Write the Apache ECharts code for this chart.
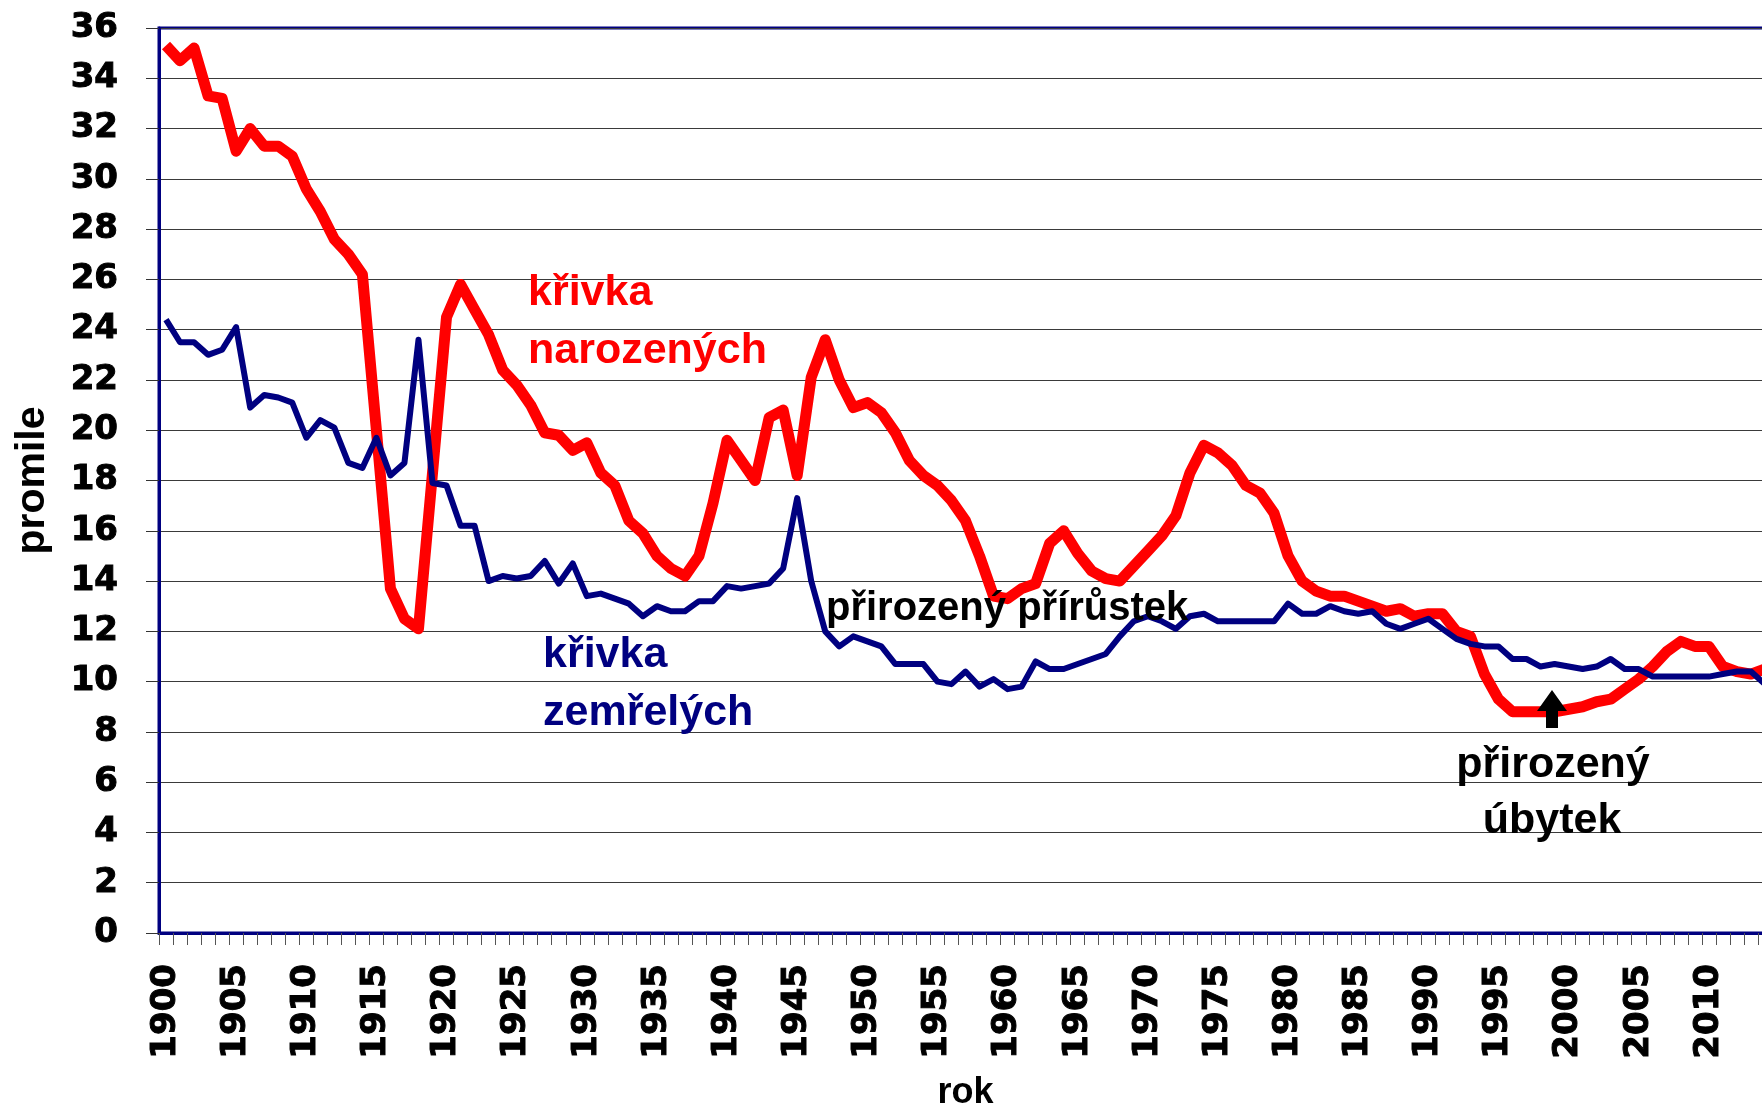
<!DOCTYPE html>
<html>
<head>
<meta charset="utf-8">
<title>Křivka narozených a zemřelých</title>
<script src="https://cdn.jsdelivr.net/npm/echarts@6/dist/echarts.min.js"></script>
<style>
  html, body { margin: 0; padding: 0; background: #fff; }
  #chart { width: 1762px; height: 1108px; }
</style>
</head>
<body>
<div id="chart"></div>
<script>
// roky 1900 - 2014
const years = []
for (let y = 1900; y <= 2014; y++) years.push(String(y))

// živě narození na 1000 obyvatel
const births = [
  35.3, 34.7, 35.2, 33.3, 33.2, 31.1, 32.0, 31.3, 31.3, 30.9, // 1900
  29.6, 28.7, 27.6, 27.0, 26.2, 20.0, 13.7, 12.5, 12.1, 18.3, // 1910
  24.5, 25.8, 24.8, 23.8, 22.4, 21.8, 21.0, 19.9, 19.8, 19.2, // 1920
  19.5, 18.3, 17.8, 16.4, 15.9, 15.0, 14.5, 14.2, 15.0, 17.1, // 1930
  19.6, 18.8, 18.0, 20.5, 20.8, 18.2, 22.1, 23.6, 22.0, 20.9, // 1940
  21.1, 20.7, 19.9, 18.8, 18.2, 17.8, 17.2, 16.4, 15.0, 13.4, // 1950
  13.3, 13.7, 13.9, 15.5, 16.0, 15.1, 14.4, 14.1, 14.0, 14.6, // 1960
  15.2, 15.8, 16.6, 18.3, 19.4, 19.1, 18.6, 17.8, 17.5, 16.7, // 1970
  15.0, 14.0, 13.6, 13.4, 13.4, 13.2, 13.0, 12.8, 12.9, 12.6, // 1980
  12.7, 12.7, 12.0, 11.8, 10.3, 9.3, 8.8, 8.8, 8.8, 8.8,      // 1990
  8.9, 9.0, 9.2, 9.3, 9.7, 10.1, 10.6, 11.2, 11.6, 11.4,      // 2000
  11.4, 10.6, 10.4, 10.3, 10.5                                // 2010
]

// zemřelí na 1000 obyvatel
const deaths = [
  24.4, 23.5, 23.5, 23.0, 23.2, 24.1, 20.9, 21.4, 21.3, 21.1, // 1900
  19.7, 20.4, 20.1, 18.7, 18.5, 19.7, 18.2, 18.7, 23.6, 17.9, // 1910
  17.8, 16.2, 16.2, 14.0, 14.2, 14.1, 14.2, 14.8, 13.9, 14.7, // 1920
  13.4, 13.5, 13.3, 13.1, 12.6, 13.0, 12.8, 12.8, 13.2, 13.2, // 1930
  13.8, 13.7, 13.8, 13.9, 14.5, 17.3, 14.0, 12.0, 11.4, 11.8, // 1940
  11.6, 11.4, 10.7, 10.7, 10.7, 10.0, 9.9, 10.4, 9.8, 10.1,   // 1950
  9.7, 9.8, 10.8, 10.5, 10.5, 10.7, 10.9, 11.1, 11.8, 12.4,   // 1960
  12.6, 12.4, 12.1, 12.6, 12.7, 12.4, 12.4, 12.4, 12.4, 12.4, // 1970
  13.1, 12.7, 12.7, 13.0, 12.8, 12.7, 12.8, 12.3, 12.1, 12.3, // 1980
  12.5, 12.1, 11.7, 11.5, 11.4, 11.4, 10.9, 10.9, 10.6, 10.7, // 1990
  10.6, 10.5, 10.6, 10.9, 10.5, 10.5, 10.2, 10.2, 10.2, 10.2, // 2000
  10.2, 10.3, 10.4, 10.4, 9.9                                 // 2010
]

const labelFont = {
  fontFamily: 'DejaVu Sans',
  fontWeight: 'bold',
  fontSize: 34,
  color: '#000',
  textBorderColor: '#000',
  textBorderWidth: 1
}

const myChart = echarts.init(document.getElementById('chart'))

const option = {
  animation: false,
  backgroundColor: '#fff',
  grid: {
    left: 159,
    top: 28,
    right: -10,
    bottom: 175,
    outerBoundsMode: 'none',
    containLabel: false,
    show: true,
    borderColor: '#000080',
    borderWidth: 3,
    backgroundColor: 'transparent'
  },
  xAxis: {
    type: 'category',
    data: years,
    boundaryGap: true,
    name: 'rok',
    nameLocation: 'middle',
    nameGap: 142,
    nameTextStyle: {
      fontFamily: 'Liberation Sans',
      fontWeight: 'bold',
      fontSize: 36,
      color: '#000'
    },
    axisLine: { lineStyle: { color: '#000080', width: 3 } },
    axisTick: { show: true, interval: 0, length: 12, lineStyle: { color: '#555', width: 1 } },
    axisLabel: Object.assign({ interval: 4, rotate: 90, margin: 31, padding: [0, 0, 8, 0] }, labelFont),
    splitLine: { show: false }
  },
  yAxis: {
    type: 'value',
    min: 0,
    max: 36,
    interval: 2,
    name: 'promile',
    nameLocation: 'middle',
    nameGap: 106,
    nameRotate: 90,
    nameTextStyle: {
      fontFamily: 'Liberation Sans',
      fontWeight: 'bold',
      fontSize: 41,
      color: '#000'
    },
    axisLine: { show: true, lineStyle: { color: '#000080', width: 3 } },
    axisTick: { show: true, length: 13, lineStyle: { color: '#333', width: 1 } },
    axisLabel: Object.assign({ margin: 41 }, labelFont),
    splitLine: { lineStyle: { color: '#3a3a3a', width: 1 } }
  },
  series: [
    {
      name: 'křivka narozených',
      type: 'line',
      data: births,
      symbol: 'none',
      color: '#ff0000',
      lineStyle: { color: '#ff0000', width: 11, join: 'round' },
      z: 2
    },
    {
      name: 'křivka zemřelých',
      type: 'line',
      data: deaths,
      symbol: 'none',
      color: '#000080',
      lineStyle: { color: '#000080', width: 6, join: 'round' },
      z: 3
    }
  ],
  graphic: [
    // popisky křivek
    {
      type: 'text', x: 528, y: 293, z: 10,
      style: { text: 'křivka', font: 'bold 43px "Liberation Sans"', fill: '#ff0000', align: 'left', verticalAlign: 'middle' }
    },
    {
      type: 'text', x: 528, y: 351, z: 10,
      style: { text: 'narozených', font: 'bold 43px "Liberation Sans"', fill: '#ff0000', align: 'left', verticalAlign: 'middle' }
    },
    {
      type: 'text', x: 543, y: 655, z: 10,
      style: { text: 'křivka', font: 'bold 43px "Liberation Sans"', fill: '#000080', align: 'left', verticalAlign: 'middle' }
    },
    {
      type: 'text', x: 543, y: 713, z: 10,
      style: { text: 'zemřelých', font: 'bold 43px "Liberation Sans"', fill: '#000080', align: 'left', verticalAlign: 'middle' }
    },
    {
      type: 'text', x: 826, y: 609, z: 10,
      style: { text: 'přirozený přírůstek', font: 'bold 40px "Liberation Sans"', fill: '#000', align: 'left', verticalAlign: 'middle' }
    },
    {
      type: 'text', x: 1553, y: 765, z: 10,
      style: { text: 'přirozený', font: 'bold 43px "Liberation Sans"', fill: '#000', align: 'center', verticalAlign: 'middle' }
    },
    {
      type: 'text', x: 1552, y: 821, z: 10,
      style: { text: 'úbytek', font: 'bold 43px "Liberation Sans"', fill: '#000', align: 'center', verticalAlign: 'middle' }
    },
    // šipka
    {
      type: 'polygon', z: 10,
      shape: {
        points: [
          [1552, 690], [1567, 711], [1558, 711], [1558, 728],
          [1546, 728], [1546, 711], [1537, 711]
        ]
      },
      style: { fill: '#000' }
    }
  ]
}

myChart.setOption(option)
window.onresize = myChart.resize
</script>
</body>
</html>
